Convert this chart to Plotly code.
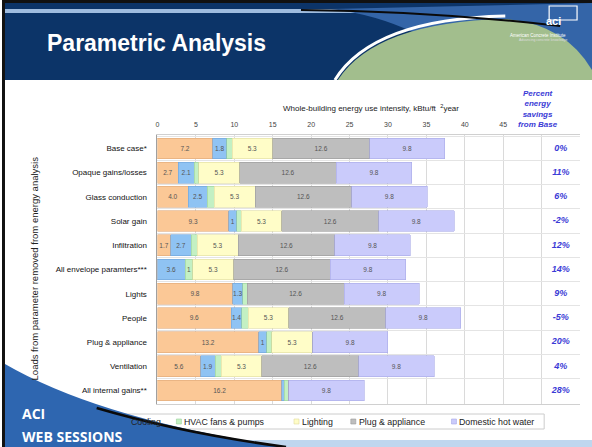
import plotly.graph_objects as go

W, H = 592, 447

categories = ["Base case*", "Opaque gains/losses", "Glass conduction", "Solar gain",
              "Infiltration", "All envelope paramters***", "Lights", "People",
              "Plug & appliance", "Ventilation", "All internal gains**"]

heating = [7.2, 2.7, 4.0, 9.3, 1.7, 0, 9.8, 9.6, 13.2, 5.6, 16.2]
cooling = [1.8, 2.1, 2.5, 1.0, 2.7, 3.6, 1.3, 1.4, 1.0, 1.9, 0.3]
fans = [0.7, 0.6, 0.9, 0.6, 0.8, 1.0, 0.6, 0.8, 0.7, 0.8, 0.6]
lighting = [5.3, 5.3, 5.3, 5.3, 5.3, 5.3, 0, 5.3, 5.3, 5.3, 0]
plug = [12.6, 12.6, 12.6, 12.6, 12.6, 12.6, 12.6, 12.6, 0, 12.6, 0]
dhw = [9.8] * 11

heating_lbl = ["7.2", "2.7", "4.0", "9.3", "1.7", "", "9.8", "9.6", "13.2", "5.6", "16.2"]
cooling_lbl = ["1.8", "2.1", "2.5", "1", "2.7", "3.6", "1.3", "1.4", "1", "1.9", ""]
fans_lbl = ["", "", "", "", "", "1", "", "", "", "", ""]
lighting_lbl = ["5.3" if v else "" for v in lighting]
plug_lbl = ["12.6" if v else "" for v in plug]
dhw_lbl = ["9.8"] * 11

savings = ["0%", "11%", "6%", "-2%", "12%", "14%", "9%", "-5%", "20%", "4%", "28%"]
x_ticks = [0, 5, 10, 15, 20, 25, 30, 35, 40, 45]
x_extra_grid = [50, 55]

series = [
    ("Heating", heating, heating_lbl, "#FBC896", "#E0A878"),
    ("Cooling", cooling, cooling_lbl, "#8FC3F3", "#6FA3D8"),
    ("HVAC fans & pumps", fans, fans_lbl, "#C3F0C3", "#9AD09A"),
    ("Lighting", lighting, lighting_lbl, "#FFFDC8", "#E0DCA0"),
    ("Plug & appliance", plug, plug_lbl, "#BEBEBE", "#9A9A9A"),
    ("Domestic hot water", dhw, dhw_lbl, "#CACBFB", "#A8AAE8"),
]

FONT = "Liberation Sans"

def px(x):
    return x / W

def py(y):
    return 1 - y / H

fig = go.Figure()
for name, vals, lbl, col, edge in series:
    fig.add_trace(go.Bar(
        y=categories, x=vals, name=name, orientation="h",
        marker=dict(color=col, line=dict(color=edge, width=0.6)),
        text=lbl, textposition="inside", insidetextanchor="middle", textangle=0,
        constraintext="none",
        textfont=dict(size=6.5, color="#555555", family=FONT),
        showlegend=False, hoverinfo="skip",
    ))

fig.add_trace(go.Scatter(
    y=categories, x=[52.5] * len(categories), mode="text", text=savings,
    textfont=dict(size=9, color="#3B3BD6", family=FONT, style="italic", weight="bold"),
    showlegend=False, hoverinfo="skip",
))

plot_l, plot_r, plot_t, plot_b = 156, 580, 135, 404

fig.update_layout(
    width=W, height=H, margin=dict(l=0, r=0, t=0, b=0),
    paper_bgcolor="white", plot_bgcolor="white",
    barmode="stack", bargap=0.14,
    font=dict(family=FONT, color="#222222"),
    xaxis=dict(domain=[px(plot_l), px(plot_r)], range=[0, 55], side="top",
               tickvals=x_ticks, showgrid=True,
               gridcolor="#DADADA", gridwidth=1, zeroline=False,
               minor=dict(tickvals=x_extra_grid, showgrid=True, gridcolor="#DADADA",
                          gridwidth=1, ticks=""),
               tickfont=dict(size=7, color="#444444"), ticks="", ticklabelstandoff=4,
               showline=True, linecolor="#D0D0D0", mirror=True, fixedrange=True),
    yaxis=dict(domain=[py(plot_b), py(plot_t)], autorange="reversed",
               type="category", tickson="boundaries", showgrid=True,
               gridcolor="#E4E4E4", ticks="", ticklabelstandoff=8,
               tickfont=dict(size=8, color="#111111"),
               showline=True, linecolor="#A0A0A0", mirror=False, fixedrange=True),
)

shapes = []
anns = []

# slide left border
shapes.append(dict(type="rect", xref="paper", yref="paper", x0=0, x1=px(3), y0=0, y1=1,
                   fillcolor="#111111", line=dict(width=0), layer="below"))
# header band
shapes.append(dict(type="rect", xref="paper", yref="paper", x0=px(3), x1=1, y0=py(80), y1=py(3),
                   fillcolor="#0C3468", line=dict(width=0), layer="below"))
shapes.append(dict(type="rect", xref="paper", yref="paper", x0=0, x1=1, y0=py(3), y1=1,
                   fillcolor="#111111", line=dict(width=0), layer="below"))
# light strip
shapes.append(dict(type="rect", xref="paper", yref="paper", x0=px(3), x1=px(370), y0=py(13), y1=py(9),
                   fillcolor="#9FBCDF", line=dict(width=0), layer="below"))
# right blue region
shapes.append(dict(type="path", xref="paper", yref="paper",
                   path=f"M {px(330)},{py(9)} L 1,{py(3)} L 1,{py(80)} L {px(480)},{py(80)} Q {px(420)},{py(20)} {px(330)},{py(9)} Z",
                   fillcolor="#3465A8", line=dict(width=0), layer="below"))
# green lens
shapes.append(dict(type="path", xref="paper", yref="paper",
                   path=f"M {px(337)},{py(80)} Q {px(375)},{py(22)} {px(505)},{py(19)} Q {px(565)},{py(24)} 1,{py(70)} L 1,{py(80)} Z",
                   fillcolor="#A2BE8D", line=dict(width=0), layer="below"))
# white arc
shapes.append(dict(type="path", xref="paper", yref="paper",
                   path=f"M {px(334)},{py(80)} Q {px(372)},{py(19)} {px(505)},{py(16)}",
                   line=dict(color="white", width=3), layer="below"))
# dark swoosh
shapes.append(dict(type="path", xref="paper", yref="paper",
                   path=f"M {px(300)},{py(10)} Q {px(430)},{py(11)} {px(560)},{py(26)}",
                   line=dict(color="#0A0A0A", width=2), layer="below"))
# logo
shapes.append(dict(type="rect", xref="paper", yref="paper", x0=px(549), x1=px(577), y0=py(20), y1=py(6),
                   fillcolor="rgba(0,0,0,0)", line=dict(color="white", width=1.2), layer="below"))
anns.append(dict(x=px(563), y=py(13), xref="paper", yref="paper", text="<b>aci</b>", showarrow=False,
                 font=dict(size=11, color="white", family=FONT)))
anns.append(dict(x=px(568), y=py(31), xref="paper", yref="paper", text="American Concrete Institute",
                 showarrow=False, font=dict(size=4.5, color="white", family=FONT)))
anns.append(dict(x=px(570), y=py(36), xref="paper", yref="paper", text="Advancing concrete knowledge",
                 showarrow=False, font=dict(size=3.5, color="#DDDDDD", family=FONT)))

# title
anns.append(dict(x=px(43), y=py(43), xref="paper", yref="paper", xanchor="left", yanchor="middle",
                 text="<b>Parametric Analysis</b>", showarrow=False,
                 font=dict(size=23, color="white", family="Liberation Sans")))

# x-axis title
anns.append(dict(x=px(370), y=py(101), xref="paper", yref="paper",
                 text="Whole-building energy use intensity, kBtu/ft  <sup>2</sup>year", showarrow=False,
                 font=dict(size=8, color="#222222", family=FONT)))
# y-axis title
anns.append(dict(x=px(25), y=py(268), xref="paper", yref="paper", textangle=-90,
                 text="Loads from parameter removed from energy analysis", showarrow=False,
                 font=dict(size=9.5, color="#222222", family=FONT)))
# percent header
anns.append(dict(x=px(560), y=py(87), xref="paper", yref="paper", yanchor="top",
                 text="Percent<br>energy<br>savings<br>from Base", showarrow=False,
                 font=dict(size=8, color="#3B3BD6", family=FONT, style="italic", weight="bold")))

# legend (manual)
shapes.append(dict(type="rect", xref="paper", yref="paper", x0=px(110), x1=px(544), y0=py(429), y1=py(414),
                   fillcolor="white", line=dict(color="#CCCCCC", width=1), layer="below"))
leg_items = [(series[1], 121), (series[2], 175), (series[3], 293), (series[4], 350), (series[5], 451)]
for (name, _v, _l, col, edge), lx in leg_items:
    shapes.append(dict(type="rect", xref="paper", yref="paper", x0=px(lx), x1=px(lx + 5),
                       y0=py(424), y1=py(419), fillcolor=col, line=dict(color=edge, width=0.6),
                       layer="below"))
    anns.append(dict(x=px(lx + 6), y=py(421.5), xref="paper", yref="paper", xanchor="left",
                     yanchor="middle", text=name, showarrow=False,
                     font=dict(size=8.8, color="#222222", family=FONT)))

# bottom strip and swoosh
shapes.append(dict(type="rect", xref="paper", yref="paper", x0=px(200), x1=1, y0=0, y1=py(440),
                   fillcolor="#BFD6EE", line=dict(width=0), layer="above"))
shapes.append(dict(type="path", xref="paper", yref="paper",
                   path=f"M {px(3)},{py(364)} Q {px(100)},{py(420)} {px(285)},0 L {px(3)},0 Z",
                   fillcolor="#2E66B0", line=dict(width=0), layer="above"))
shapes.append(dict(type="path", xref="paper", yref="paper",
                   path=f"M {px(95)},{py(408)} Q {px(180)},{py(433)} {px(285)},0",
                   line=dict(color="#0A0A0A", width=2.5), layer="above"))
anns.append(dict(x=px(18), y=py(413), xref="paper", yref="paper", xanchor="left", yanchor="middle",
                 text="<b>ACI</b>", showarrow=False,
                 font=dict(size=14, color="white", family="Open Sans")))
anns.append(dict(x=px(18), y=py(436), xref="paper", yref="paper", xanchor="left", yanchor="middle",
                 text="<b>WEB SESSIONS</b>", showarrow=False,
                 font=dict(size=14, color="white", family="Open Sans")))

fig.update_layout(shapes=shapes, annotations=anns)
fig.write_html("out.html")
